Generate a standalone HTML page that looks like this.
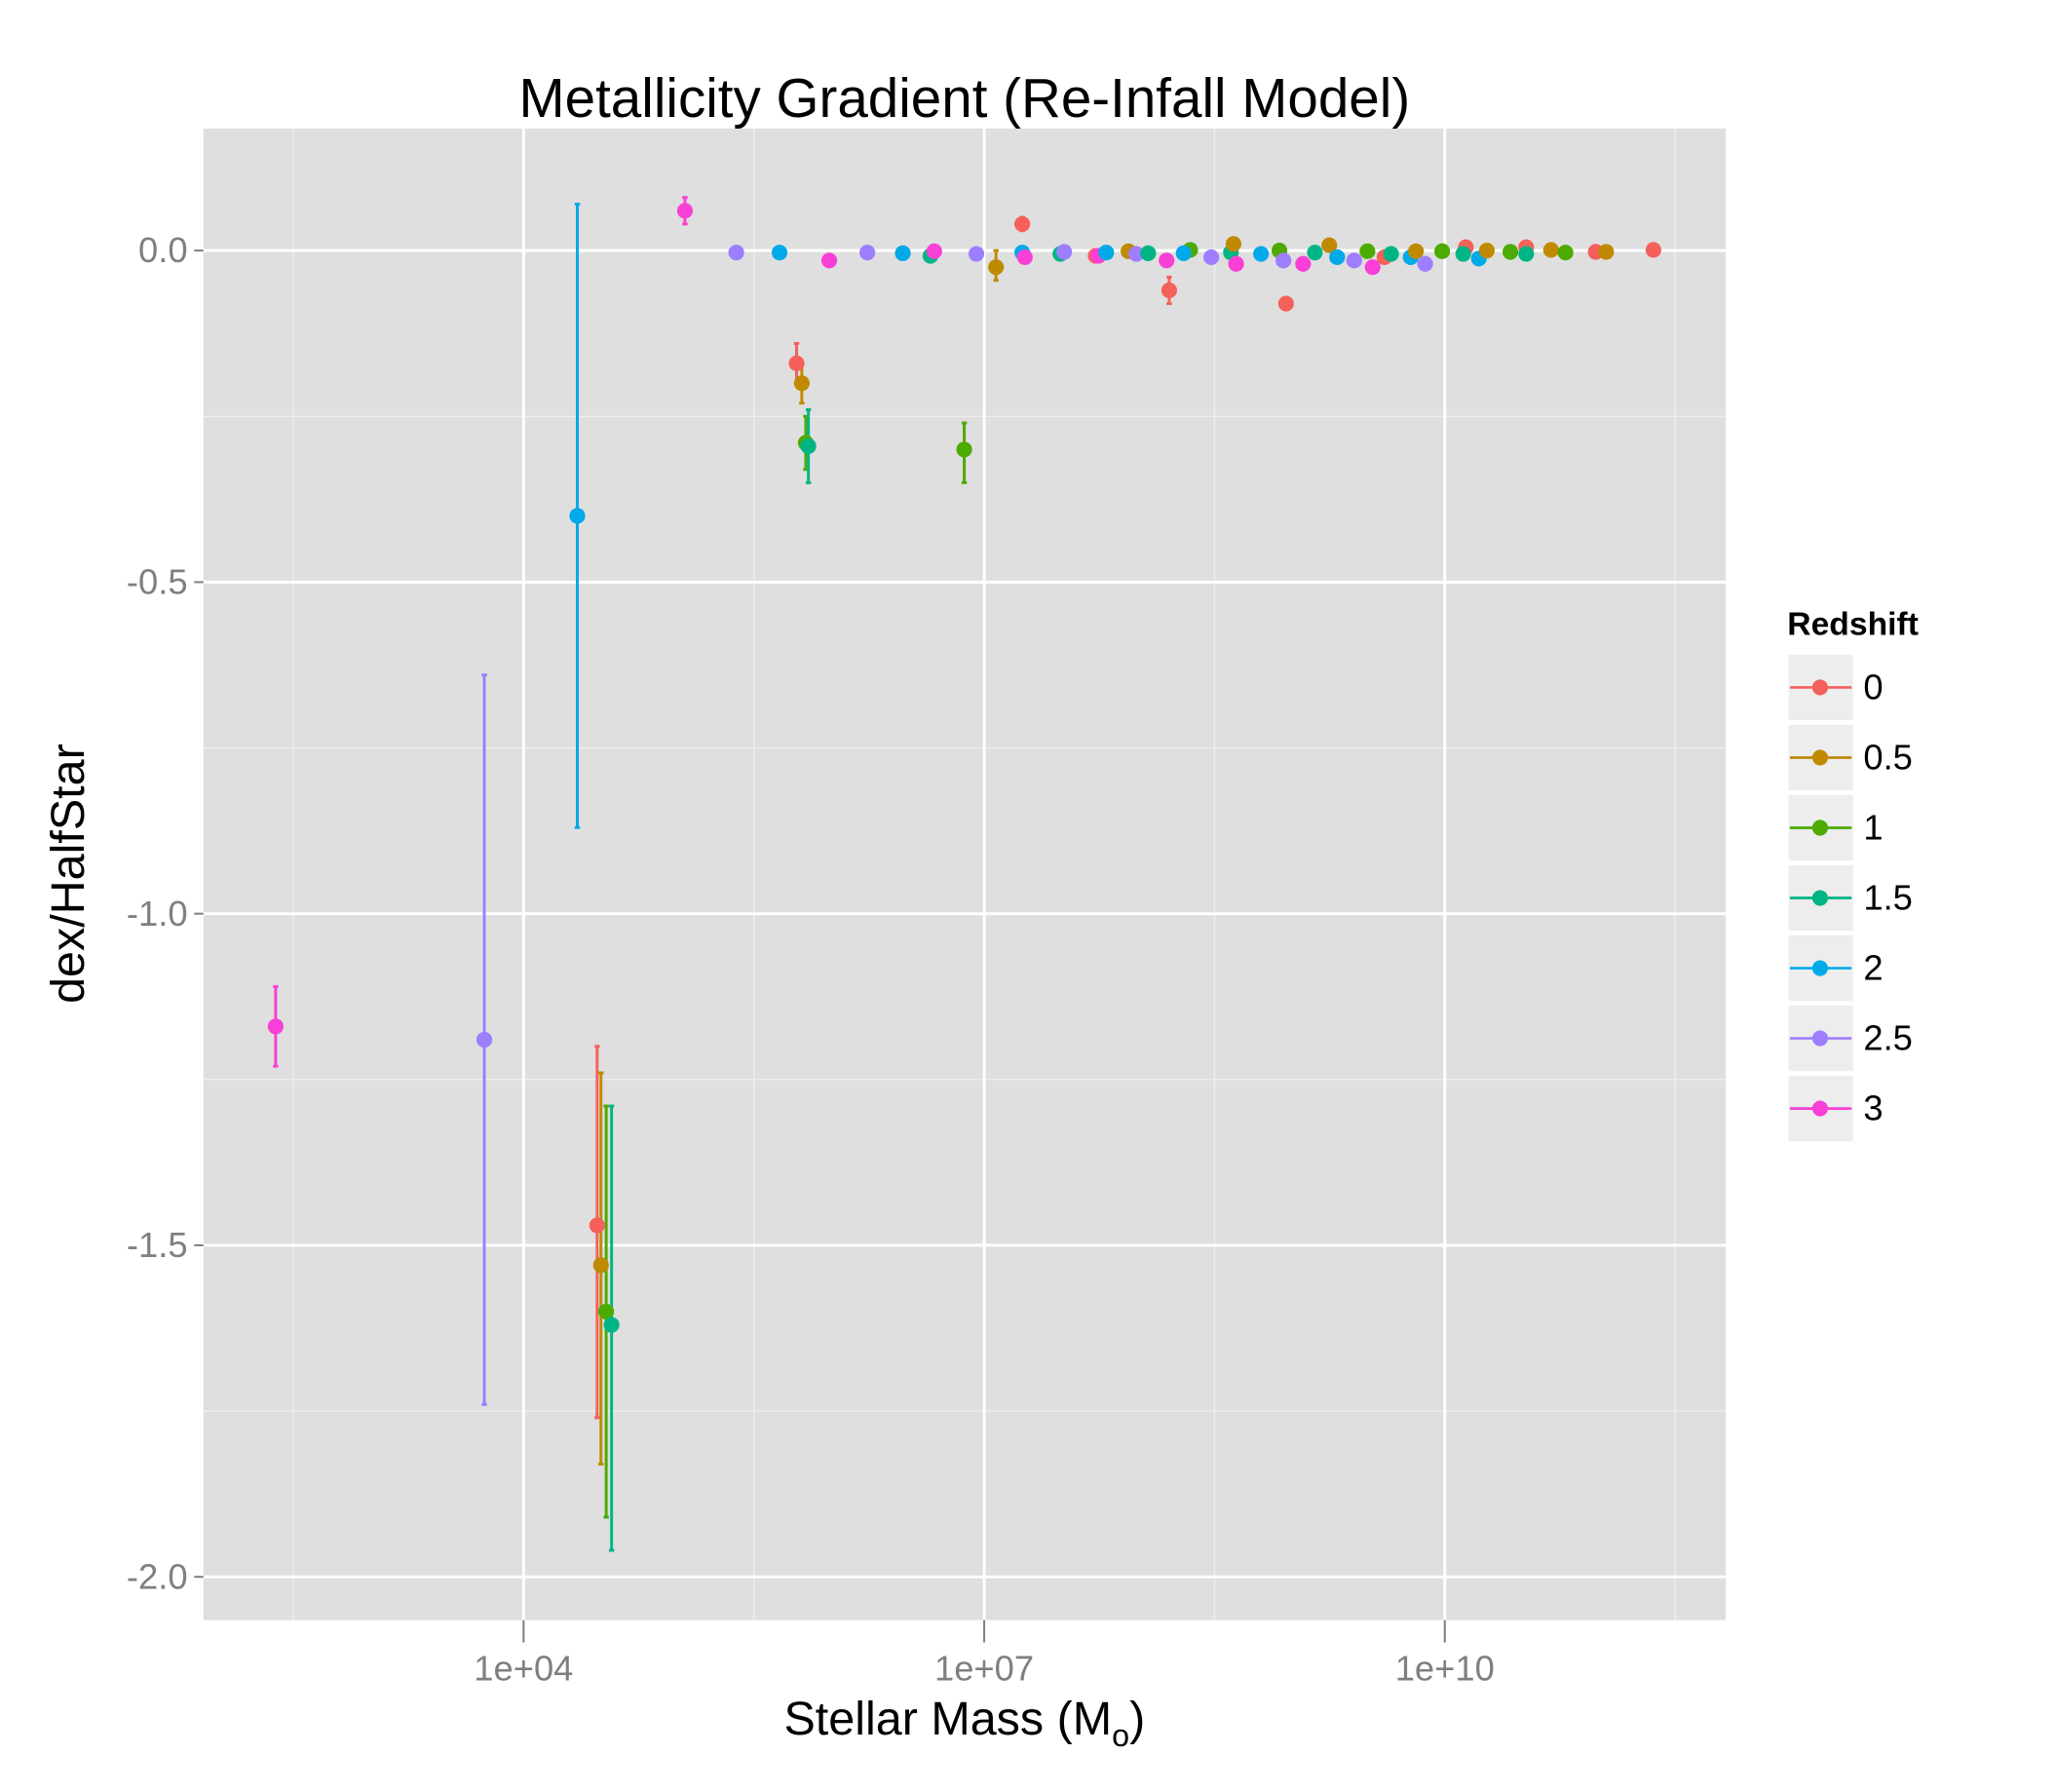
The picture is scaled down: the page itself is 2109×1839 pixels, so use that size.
<!DOCTYPE html>
<html><head><meta charset="utf-8"><style>
html,body{margin:0;padding:0;background:#fff;}
svg{display:block;font-family:"Liberation Sans",sans-serif;}
</style></head><body>
<svg id="chart" width="2109" height="1839" viewBox="0 0 1566 1366" preserveAspectRatio="none" xmlns="http://www.w3.org/2000/svg">
<rect x="0" y="0" width="1566" height="1366" fill="#fff"/>
<rect x="155" y="98" width="1160" height="1137" fill="#DFDFDF"/>
<g id="grid"></g>
<g id="marks"></g>
<g id="axes"></g>
<text x="735" y="89" text-anchor="middle" font-size="42" fill="#000">Metallicity Gradient (Re-Infall Model)</text>
<text x="735" y="1322" text-anchor="middle" font-size="36" fill="#000">Stellar Mass (M<tspan font-size="24" dy="9">o</tspan><tspan dy="-9">)</tspan></text>
<text transform="translate(64,666) rotate(-90)" text-anchor="middle" font-size="36" fill="#000">dex/HalfStar</text>
<g id="legend"></g>
</svg>
<script>
const series = ["0","0.5","1","1.5","2","2.5","3"];
const colors = ["#F5605A","#C08A00","#4DAA00","#00B585","#00A9E8","#9D7EFF","#F840D6"];
const xTicks = [4,7,10];
const xTickLabels = ["1e+04","1e+07","1e+10"];
const yTicks = [0,-0.5,-1,-1.5,-2];
const yTickLabels = ["0.0","-0.5","-1.0","-1.5","-2.0"];
// per-point data: series index, log10 mass, value, error low, error high
const ptSeries = [6,5,4,0,1,2,3,6,0,1,2,3,2,1,0,0,0,
 5,4,6,5,4,3,6,5,4,6,3,5,0,6,4,1,5,3,2,4,6,5,3,1,6,4,2,5,6,3,1,4,5,2,6,0,3,4,1,5,2,0,3,4,1,2,0,3,1,2,0,1,0];
const ptLogMass = [2.385,3.744,4.35,4.479,4.504,4.538,4.573,5.051,5.778,5.812,5.838,5.855,6.87,7.077,7.248,8.205,8.966,
 5.385,5.667,5.991,6.239,6.470,6.650,6.675,6.949,7.248,7.265,7.496,7.521,7.726,7.744,7.795,7.940,7.991,8.068,8.342,8.299,8.188,8.479,8.607,8.624,8.641,8.803,8.923,8.949,9.077,9.154,9.248,9.299,9.410,9.496,9.530,9.607,9.650,9.778,9.812,9.872,9.983,10.137,10.120,10.222,10.274,10.427,10.530,10.530,10.692,10.786,10.983,11.051,11.359];
const ptValue = [-1.17,-1.19,-0.40,-1.47,-1.53,-1.60,-1.62,0.06,-0.17,-0.20,-0.29,-0.295,-0.30,-0.025,0.04,-0.06,-0.08,
 -0.003,-0.003,-0.015,-0.003,-0.004,-0.008,-0.001,-0.005,-0.003,-0.01,-0.005,-0.002,-0.008,-0.008,-0.003,-0.001,-0.005,-0.004,0.001,-0.004,-0.015,-0.01,-0.003,0.01,-0.02,-0.005,0,-0.015,-0.02,-0.003,0.008,-0.01,-0.015,-0.001,-0.025,-0.01,-0.005,-0.01,-0.001,-0.02,-0.001,0.005,-0.005,-0.012,0,-0.002,0.005,-0.005,0.001,-0.003,-0.002,-0.002,0.001];
const ptLow = [-1.23,-1.74,-0.87,-1.76,-1.83,-1.91,-1.96,0.04,-0.20,-0.23,-0.33,-0.35,-0.35,-0.045,0.03,-0.08,-0.085];
const ptHigh = [-1.11,-0.64,0.07,-1.20,-1.24,-1.29,-1.29,0.08,-0.14,-0.17,-0.25,-0.24,-0.26,0.0,0.05,-0.04,-0.075];

const NS="http://www.w3.org/2000/svg";
const PX0=155,PX1=1315,PY0=98,PY1=1235;
function xs(l){return 399+(l-4)*117;}
function ys(v){return 191-v*505.5;}
function mk(tag,attrs,parent){const e=document.createElementNS(NS,tag);for(const k in attrs)e.setAttribute(k,attrs[k]);parent.appendChild(e);return e;}
const grid=document.getElementById('grid'),marks=document.getElementById('marks'),axes=document.getElementById('axes'),legend=document.getElementById('legend');
for(let i=0;i<xTicks.length+1;i++){const l=xTicks[0]-1.5+i*3;const x=xs(l);if(x>PX0&&x<PX1){const e=mk('line',{x1:x,x2:x,y1:PY0,y2:PY1,stroke:'#EEEEEE','stroke-width':1},grid);}}
for(let i=0;i<yTicks.length-1;i++){const y=ys((yTicks[i]+yTicks[i+1])/2);const e=mk('line',{x1:PX0,x2:PX1,y1:y,y2:y,stroke:'#EEEEEE','stroke-width':1},grid);}
xTicks.forEach((t,i)=>{const x=xs(t);
 const g=mk('line',{x1:x,x2:x,y1:PY0,y2:PY1,stroke:'#fff','stroke-width':2.2},grid);
 const tk=mk('line',{x1:x,x2:x,y1:PY1,y2:PY1+17,stroke:'#7F7F7F','stroke-width':1.5},axes);
 const tx=mk('text',{x:x,y:PY1+46,'text-anchor':'middle','font-size':27,fill:'#7F7F7F'},axes);tx.textContent=xTickLabels[i];});
yTicks.forEach((t,i)=>{const y=ys(t);
 const g=mk('line',{x1:PX0,x2:PX1,y1:y,y2:y,stroke:'#fff','stroke-width':2.2},grid);
 const tk=mk('line',{x1:PX0-7,x2:PX0,y1:y,y2:y,stroke:'#7F7F7F','stroke-width':1.5},axes);
 const tx=mk('text',{x:PX0-12,y:y+9,'text-anchor':'end','font-size':27,fill:'#7F7F7F'},axes);tx.textContent=yTickLabels[i];});
for(let i=0;i<ptLow.length;i++){const c=colors[ptSeries[i]],x=xs(ptLogMass[i]);
 const e=mk('g',{stroke:c,'stroke-width':2.2},marks);
 
 
 mk('line',{x1:x,x2:x,y1:ys(ptHigh[i]),y2:ys(ptLow[i])},e);
 mk('line',{x1:x-2,x2:x+2,y1:ys(ptHigh[i]),y2:ys(ptHigh[i])},e);
 mk('line',{x1:x-2,x2:x+2,y1:ys(ptLow[i]),y2:ys(ptLow[i])},e);}
for(let i=0;i<ptValue.length;i++){
 const p=mk('circle',{cx:xs(ptLogMass[i]),cy:ys(ptValue[i]),r:6,fill:colors[ptSeries[i]]},marks);
 
 }
const lt=mk('text',{x:1362,y:484,'font-size':25,'font-weight':'bold',fill:'#000'},legend);lt.textContent='Redshift';

series.forEach((s,i)=>{const y0=498+i*53.5;
 const g=mk('g',{},legend);
 mk('rect',{x:1362,y:y0,width:51,height:52,fill:'#EDEDED',stroke:'#fff','stroke-width':2},g);
 mk('line',{x1:1364,x2:1411,y1:y0+26,y2:y0+26,stroke:colors[i],'stroke-width':2},g);
 mk('circle',{cx:1387,cy:y0+26,r:6,fill:colors[i]},g);
 const t=mk('text',{x:1420,y:y0+35,'font-size':27,fill:'#000'},g);t.textContent=s;});
</script>
</body></html>
